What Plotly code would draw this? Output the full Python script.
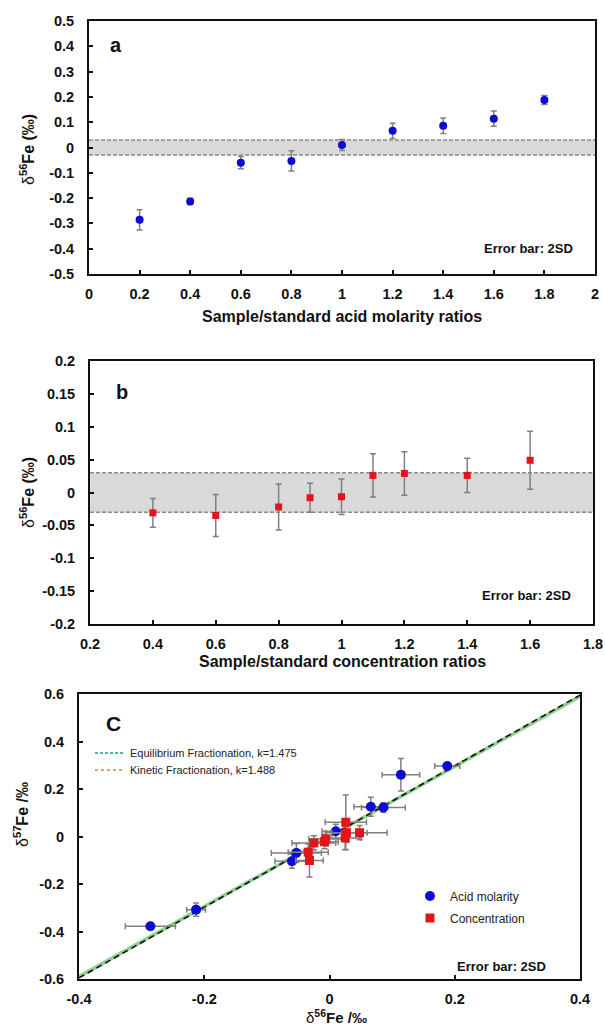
import plotly.graph_objects as go

W, H = 605, 1026

# ---------------- data ----------------
# panel a: acid molarity
a_x = [0.2, 0.4, 0.6, 0.8, 1.0, 1.2, 1.4, 1.6, 1.8]
a_y = [-0.286, -0.213, -0.060, -0.053, 0.010, 0.066, 0.086, 0.114, 0.188]
a_err = [0.040, 0.012, 0.024, 0.040, 0.022, 0.030, 0.031, 0.030, 0.018]

# panel b: concentration
b_x = [0.4, 0.6, 0.8, 0.9, 1.0, 1.1, 1.2, 1.4, 1.6]
b_y = [-0.031, -0.035, -0.022, -0.008, -0.0065, 0.026, 0.029, 0.026, 0.049]
b_err = [0.022, 0.032, 0.035, 0.022, 0.027, 0.033, 0.033, 0.026, 0.044]

# panel c: three-isotope plot
c_acid_d56 = [-0.286, -0.213, -0.060, -0.053, 0.010, 0.066, 0.086, 0.114, 0.188]
c_acid_d56_err = [0.040, 0.015, 0.027, 0.040, 0.022, 0.027, 0.035, 0.030, 0.020]
c_acid_d57 = [-0.378, -0.308, -0.104, -0.069, 0.022, 0.125, 0.122, 0.260, 0.297]
c_acid_d57_err = [0.010, 0.028, 0.030, 0.040, 0.030, 0.040, 0.020, 0.068, 0.012]

c_conc_d56 = [-0.032, -0.034, -0.025, -0.008, -0.006, 0.026, 0.027, 0.025, 0.048]
c_conc_d56_err = [0.022, 0.032, 0.035, 0.022, 0.027, 0.033, 0.033, 0.026, 0.044]
c_conc_d57 = [-0.101, -0.066, -0.027, -0.022, -0.010, 0.060, 0.016, -0.006, 0.016]
c_conc_d57_err = [0.070, 0.035, 0.030, 0.030, 0.030, 0.115, 0.040, 0.050, 0.030]

k_equilibrium = 1.475
k_kinetic = 1.488
line_d56 = [-0.4, 0.4]

band_low, band_high = -0.03, 0.03

# tick labels
a_xticks = [0, 0.2, 0.4, 0.6, 0.8, 1.0, 1.2, 1.4, 1.6, 1.8, 2.0]
a_xtext = ["0", "0.2", "0.4", "0.6", "0.8", "1", "1.2", "1.4", "1.6", "1.8", "2"]
a_yticks = [-0.5, -0.4, -0.3, -0.2, -0.1, 0, 0.1, 0.2, 0.3, 0.4, 0.5]
a_ytext = ["-0.5", "-0.4", "-0.3", "-0.2", "-0.1", "0", "0.1", "0.2", "0.3", "0.4", "0.5"]
b_xticks = [0.2, 0.4, 0.6, 0.8, 1.0, 1.2, 1.4, 1.6, 1.8]
b_xtext = ["0.2", "0.4", "0.6", "0.8", "1", "1.2", "1.4", "1.6", "1.8"]
b_yticks = [-0.2, -0.15, -0.1, -0.05, 0, 0.05, 0.1, 0.15, 0.2]
b_ytext = ["-0.2", "-0.15", "-0.1", "-0.05", "0", "0.05", "0.1", "0.15", "0.2"]
c_xticks = [-0.4, -0.2, 0, 0.2, 0.4]
c_xtext = ["-0.4", "-0.2", "0", "0.2", "0.4"]
c_yticks = [-0.6, -0.4, -0.2, 0, 0.2, 0.4, 0.6]
c_ytext = ["-0.6", "-0.4", "-0.2", "0", "0.2", "0.4", "0.6"]

# ---------------- style ----------------
FONT = "Arial, Liberation Sans, sans-serif"
BLUE = "#0b0bd6"
RED = "#e3141b"
ERR = "#808080"


def px(x):
    return x / W


def py(y):
    return 1 - y / H


fig = go.Figure()

# panel a
fig.add_trace(go.Scatter(
    x=a_x, y=a_y, mode="markers", xaxis="x", yaxis="y", showlegend=False,
    marker=dict(color=BLUE, size=8, symbol="circle"),
    error_y=dict(type="data", array=a_err, color=ERR, thickness=1.5, width=3),
))

# panel b
fig.add_trace(go.Scatter(
    x=b_x, y=b_y, mode="markers", xaxis="x2", yaxis="y2", showlegend=False,
    marker=dict(color=RED, size=7, symbol="square"),
    error_y=dict(type="data", array=b_err, color=ERR, thickness=1.5, width=3),
))

# panel c fractionation lines (drawn), legend entries separately
fig.add_trace(go.Scatter(
    x=line_d56, y=[k_equilibrium * v for v in line_d56], mode="lines",
    xaxis="x3", yaxis="y3", showlegend=False,
    line=dict(color="#8fd08f", width=3.5, dash="solid"),
))
fig.add_trace(go.Scatter(
    x=line_d56, y=[k_kinetic * v for v in line_d56], mode="lines",
    xaxis="x3", yaxis="y3", showlegend=False,
    line=dict(color="#111111", width=1.6, dash="6px,4px"),
))
fig.add_trace(go.Scatter(
    x=[None], y=[None], mode="lines", xaxis="x3", yaxis="y3",
    name="Equilibrium Fractionation, k=1.475", legend="legend2",
    line=dict(color="#1a9e8f", width=1.3, dash="3px,2px"),
))
fig.add_trace(go.Scatter(
    x=[None], y=[None], mode="lines", xaxis="x3", yaxis="y3",
    name="Kinetic Fractionation, k=1.488", legend="legend3",
    line=dict(color="#d4883a", width=1.3, dash="dot"),
))

# panel c points
fig.add_trace(go.Scatter(
    x=c_acid_d56, y=c_acid_d57, mode="markers", xaxis="x3", yaxis="y3",
    name="Acid molarity", legend="legend4",
    marker=dict(color=BLUE, size=10, symbol="circle"),
    error_x=dict(type="data", array=c_acid_d56_err, color=ERR, thickness=1.5, width=3),
    error_y=dict(type="data", array=c_acid_d57_err, color=ERR, thickness=1.5, width=3),
))
fig.add_trace(go.Scatter(
    x=c_conc_d56, y=c_conc_d57, mode="markers", xaxis="x3", yaxis="y3",
    name="Concentration", legend="legend5",
    marker=dict(color=RED, size=9, symbol="square"),
    error_x=dict(type="data", array=c_conc_d56_err, color=ERR, thickness=1.5, width=3),
    error_y=dict(type="data", array=c_conc_d57_err, color=ERR, thickness=1.5, width=3),
))

tickfont = dict(family=FONT, size=14.5, color="#111111", weight="bold")


def xax(domain, anchor, rng, vals, text):
    return dict(domain=domain, anchor=anchor, range=rng, tickvals=vals, ticktext=text,
                showline=True, mirror=True, linecolor="#111111", linewidth=1.8,
                ticks="inside", ticklen=4, tickwidth=1.5, tickcolor="#111111",
                showgrid=False, zeroline=False, tickfont=tickfont,
                ticklabelstandoff=6, ticklabeloverflow="allow", automargin=False)


def yax(domain, anchor, rng, vals, text):
    d = xax(domain, anchor, rng, vals, text)
    d["ticklabelstandoff"] = 10
    return d


def leg(x, y, size):
    return dict(x=px(x), y=py(y), xanchor="left", yanchor="middle",
                bgcolor="rgba(0,0,0,0)", itemwidth=30,
                font=dict(family=FONT, size=size, color="#222222"))


layout = dict(
    width=W, height=H, margin=dict(l=0, r=0, t=0, b=0),
    paper_bgcolor="white", plot_bgcolor="white",
    font=dict(family=FONT, color="#111111"),
    xaxis=xax([px(89), px(595)], "y", [0, 2], a_xticks, a_xtext),
    yaxis=yax([py(274), py(21)], "x", [-0.5, 0.5], a_yticks, a_ytext),
    xaxis2=xax([px(90), px(593)], "y2", [0.2, 1.8], b_xticks, b_xtext),
    yaxis2=yax([py(624), py(361)], "x2", [-0.2, 0.2], b_yticks, b_ytext),
    xaxis3=xax([px(79), px(580)], "y3", [-0.4, 0.4], c_xticks, c_xtext),
    yaxis3=yax([py(979), py(694)], "x3", [-0.6, 0.6], c_yticks, c_ytext),
    legend2=leg(90, 753, 11),
    legend3=leg(90, 770, 11),
    legend4=leg(410, 896, 12),
    legend5=leg(410, 918, 12),
)

shapes = []
for xa, ya in [("x", "y"), ("x2", "y2")]:
    shapes.append(dict(type="rect", xref=f"{xa} domain", yref=ya, x0=0, x1=1,
                       y0=band_low, y1=band_high, fillcolor="#d9d9d9",
                       line=dict(width=0), layer="below"))
    for yv in (band_low, band_high):
        shapes.append(dict(type="line", xref=f"{xa} domain", yref=ya, x0=0, x1=1,
                           y0=yv, y1=yv, line=dict(color="#8a8a8a", width=1.5, dash="4px,2px"),
                           layer="below"))
layout["shapes"] = shapes


def ann(text, x, y, size, bold=True, angle=0, xanchor="center"):
    return dict(text=text, x=px(x), y=py(y), xref="paper", yref="paper",
                showarrow=False, textangle=angle, xanchor=xanchor, yanchor="middle",
                font=dict(family=FONT, size=size, color="#111111",
                          weight="bold" if bold else "normal"))


annotations = [
    ann("a", 116, 45, 20),
    ann("b", 122, 392, 20),
    ann("C", 113, 723, 21),
    ann("Error bar: 2SD", 528, 248, 13),
    ann("Error bar: 2SD", 526, 595, 13),
    ann("Error bar: 2SD", 501, 966, 13),
    ann("Sample/standard acid molarity ratios", 342, 316, 16),
    ann("Sample/standard concentration ratios", 342, 661, 16),
    ann("<span style='font-weight:normal'>δ</span><sup>56</sup>Fe /‰", 336, 1016, 15),
    ann("<span style='font-weight:normal'>δ</span><sup>56</sup>Fe (‰)", 27, 150, 16, angle=-90),
    ann("<span style='font-weight:normal'>δ</span><sup>56</sup>Fe (‰)", 27, 493, 16, angle=-90),
    ann("<span style='font-weight:normal'>δ</span><sup>57</sup>Fe /‰", 21, 815, 16, angle=-90),
]
layout["annotations"] = annotations

fig.update_layout(**layout)
fig.write_html(
    "out.html",
    config={"displayModeBar": False},
    post_script="document.body.style.margin='0px';document.body.style.overflow='hidden';",
)
